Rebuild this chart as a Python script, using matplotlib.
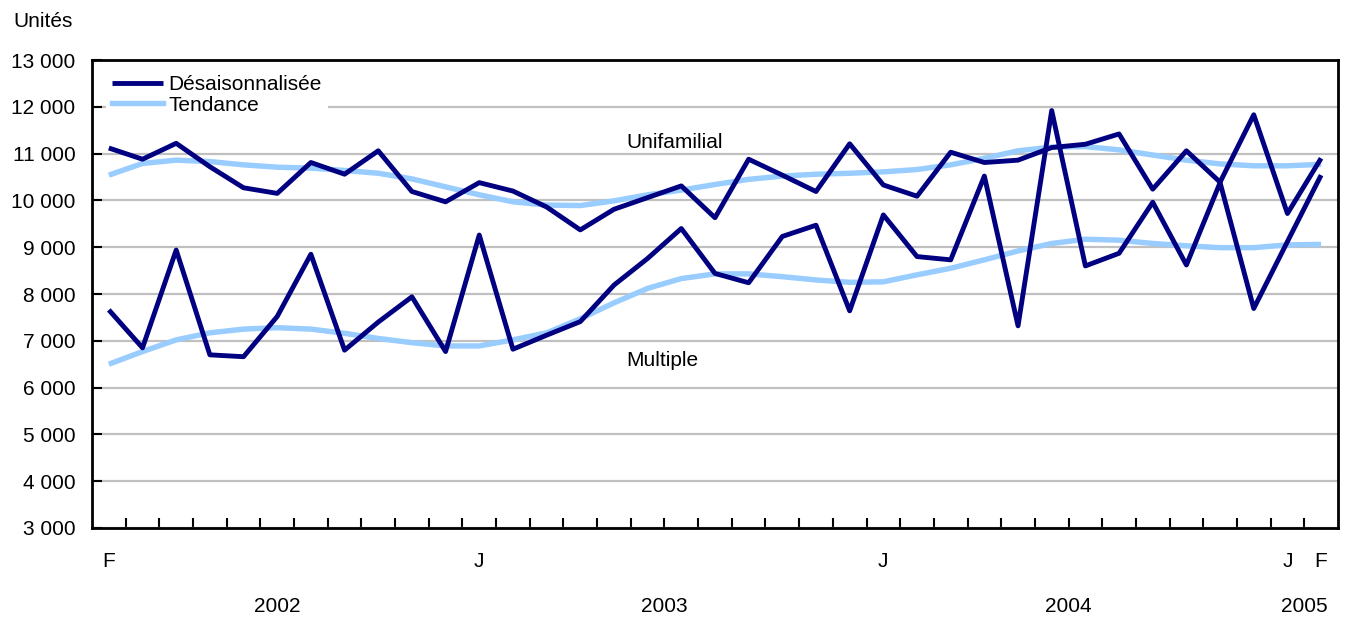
import matplotlib.pyplot as plt
import matplotlib.transforms as mtransforms
import numpy as np

plt.rcParams['font.family'] = ['Liberation Sans', 'DejaVu Sans']

# monthly, Feb 2002 .. Feb 2005 (37 months)
month_labels = {0: "F", 11: "J", 23: "J", 35: "J", 36: "F"}
year_labels = {5.0: "2002", 16.5: "2003", 28.5: "2004", 35.5: "2005"}

uni_sa = [11120, 10880, 11220, 10720, 10270, 10150, 10810, 10560, 11060, 10190,
          9970, 10380, 10200, 9860, 9370, 9810, 10060, 10310, 9630, 10880,
          10540, 10190, 11210, 10330, 10090, 11030, 10810, 10860, 11130, 11200,
          11420, 10240, 11060, 10390, 11830, 9720, 10900]
uni_trend = [10540, 10790, 10860, 10830, 10760, 10710, 10690, 10640, 10580, 10460,
             10290, 10120, 9970, 9900, 9890, 9990, 10120, 10220, 10340, 10450,
             10520, 10560, 10580, 10610, 10660, 10760, 10900, 11060, 11140, 11150,
             11080, 10970, 10860, 10780, 10740, 10740, 10770]
multi_sa = [7660, 6850, 8940, 6700, 6660, 7520, 8850, 6800, 7400, 7940,
            6770, 9260, 6820, 7120, 7410, 8190, 8760, 9400, 8440, 8240,
            9230, 9470, 7640, 9690, 8800, 8730, 10520, 7320, 11920, 8600,
            8870, 9960, 8620, 10380, 7690, 9120, 10540]
multi_trend = [6500, 6770, 7020, 7170, 7250, 7280, 7250, 7160, 7050, 6960,
               6890, 6890, 7020, 7170, 7470, 7810, 8120, 8330, 8430, 8430,
               8370, 8300, 8250, 8260, 8410, 8550, 8730, 8920, 9080, 9170,
               9150, 9080, 9030, 8990, 8990, 9050, 9060]

dark = '#000080'
light = '#99ccff'
fs = 15

fig = plt.figure(figsize=(13.49, 6.2), dpi=100)
ax = fig.add_axes([0.0682, 0.1484, 0.9236, 0.7548])

x = np.arange(len(uni_sa))
ax.plot(x, uni_trend, color=light, lw=3.9, solid_capstyle='butt', zorder=3)
ax.plot(x, multi_trend, color=light, lw=3.9, solid_capstyle='butt', zorder=3)
ax.plot(x, uni_sa, color=dark, lw=3.5, solid_capstyle='butt', zorder=4, label='Désaisonnalisée')
ax.plot(x, multi_sa, color=dark, lw=3.5, solid_capstyle='butt', zorder=4)
ax.plot([], [], color=light, lw=3.9, label='Tendance')

ax.set_xlim(-0.5, len(x) - 0.5)
ax.set_ylim(3000, 13000)
ax.set_yticks(np.arange(3000, 13001, 1000))
ax.set_yticklabels([f"{v // 1000} {v % 1000:03d}" for v in range(3000, 13001, 1000)], fontsize=fs)
ax.yaxis.grid(True, color='#c0c0c0', lw=1.6)
ax.set_axisbelow(True)

# ticks between months, labels under the months
ax.set_xticks(np.arange(0.5, len(x) - 1, 1.0))
ax.set_xticklabels([])
ax.tick_params(axis='x', direction='in', length=7, width=1.5, color='black')
ax.tick_params(axis='y', direction='in', length=7, width=1.5, pad=12)
for s in ax.spines.values():
    s.set_linewidth(2)

trans = mtransforms.blended_transform_factory(ax.transData, ax.transAxes)
for pos, lab in month_labels.items():
    ax.text(pos, -0.072, lab, transform=trans, ha='center', va='center', fontsize=fs)
for pos, lab in year_labels.items():
    ax.text(pos, -0.168, lab, transform=trans, ha='center', va='center', fontsize=fs)

ax.text(15.37, 11230, "Unifamilial", fontsize=fs, va='center', ha='left')
ax.text(15.37, 6570, "Multiple", fontsize=fs, va='center', ha='left')
fig.text(0.0096, 0.966, "Unités", fontsize=fs, va='center', ha='left')

leg = ax.legend(loc='upper left', bbox_to_anchor=(0.008, 0.99), fontsize=fs, frameon=True,
                fancybox=False, edgecolor='none', framealpha=1, handlelength=2.45,
                handletextpad=0.25, labelspacing=0.08, borderaxespad=0.2,
                borderpad=0.3)

fig.savefig('out.png', dpi=100)
